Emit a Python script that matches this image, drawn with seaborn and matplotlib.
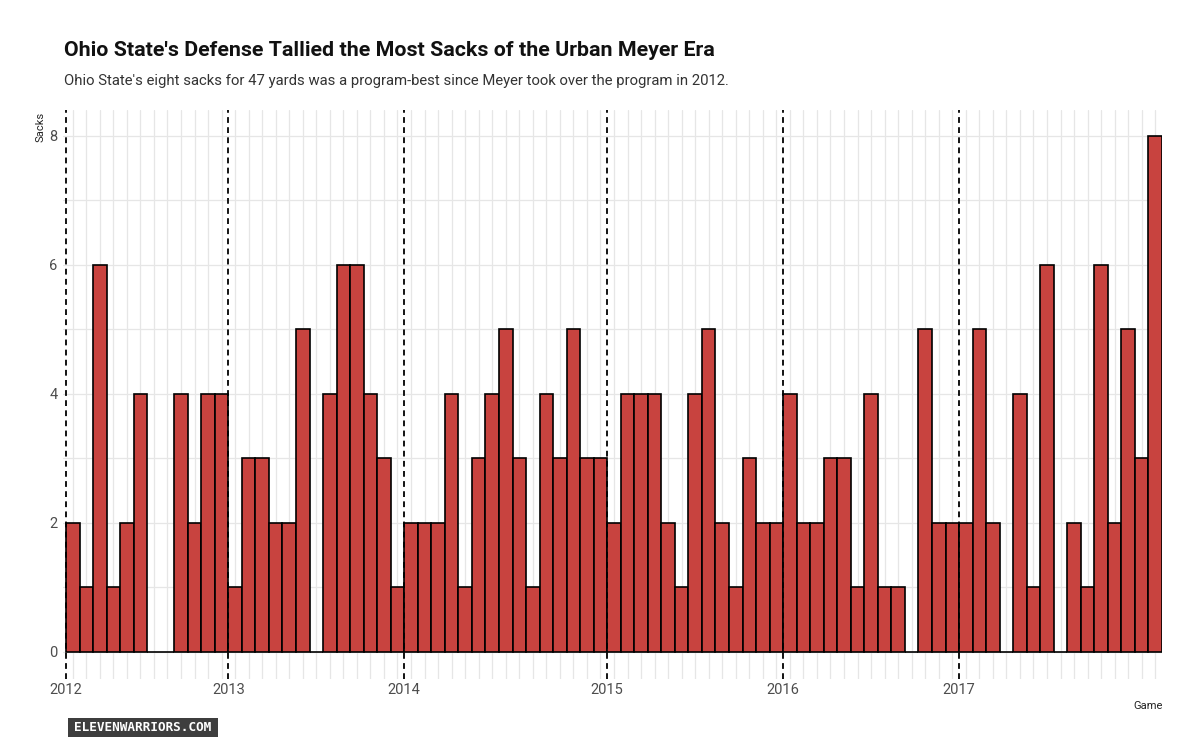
import numpy as np
import pandas as pd
import matplotlib
matplotlib.use("Agg")
import matplotlib.pyplot as plt
import seaborn as sns
from matplotlib.patches import Rectangle

# ---- data ----
game = list(range(1, 82))
sacks = [2, 1, 6, 1, 2, 4, 0, 0, 4, 2, 4, 4,
         1, 3, 3, 2, 2, 5, 0, 4, 6, 6, 4, 3, 1,
         2, 2, 2, 4, 1, 3, 4, 5, 3, 1, 4, 3, 5, 3, 3,
         2, 4, 4, 4, 2, 1, 4, 5, 2, 1, 3, 2, 2,
         4, 2, 2, 3, 3, 1, 4, 1, 1, 0, 5, 2, 2,
         2, 5, 2, 0, 4, 1, 6, 0, 2, 1, 6, 2, 5, 3, 8]
season_years = [2012, 2013, 2014, 2015, 2016, 2017]
season_first_game = [1, 13, 26, 41, 54, 67]
y_ticks = [0, 2, 4, 6, 8]

title = "Ohio State's Defense Tallied the Most Sacks of the Urban Meyer Era"
subtitle = ("Ohio State's eight sacks for 47 yards was a program-best since "
            "Meyer took over the program in 2012.")

df = pd.DataFrame({"game": game, "sacks": sacks})

sns.set_theme(style="white")
plt.rcParams["font.family"] = ["Roboto", "DejaVu Sans"]

fig = plt.figure(figsize=(12, 7.49), dpi=100)
ax = fig.add_axes([63 / 1200, 1 - 679 / 749, (1162 - 63) / 1200, (679 - 110) / 749])

grid_c = "#E6E6E6"
# grid lines
for g in game:
    ax.axvline(g, color=grid_c, lw=0.9, zorder=0)
for yv in range(0, 9):
    ax.axhline(yv, color=grid_c, lw=0.9, zorder=0)

sns.barplot(data=df, x="game", y="sacks", native_scale=True, width=1,
            color="#C8433F", saturation=1, edgecolor="black", linewidth=1.2,
            errorbar=None, ax=ax, zorder=2)

for g in season_first_game:
    ax.axvline(g - 0.5, color="black", lw=1.3, ls=(0, (3.2, 2.4)), zorder=3)

ax.set_xlim(0.28, 81.5)
ax.set_ylim(-0.42, 8.40)
ax.set_xticks([g - 0.5 for g in season_first_game])
ax.set_xticklabels([str(y) for y in season_years])
ax.set_yticks(y_ticks)
ax.set_yticklabels([str(v) for v in y_ticks])
ax.tick_params(axis="both", length=0, labelsize=10.5, colors="#4D4D4D")
ax.tick_params(axis="x", pad=3)
ax.tick_params(axis="y", pad=4)
for s in ax.spines.values():
    s.set_visible(False)
ax.grid(False)
ax.set_xlabel("")
ax.set_ylabel("")

# axis titles
fig.text(41 / 1200, 1 - 112 / 749, "Sacks", rotation=90, ha="center", va="top",
         fontsize=8, color="#222222")
fig.text(1163 / 1200, 1 - 706 / 749, "Game", ha="right", va="center",
         fontsize=8, color="#222222")

# title & subtitle
fig.text(64 / 1200, 1 - 50 / 749, title, ha="left", va="center",
         fontsize=15.4, fontweight="bold", color="#111111")
fig.text(64 / 1200, 1 - 81 / 749, subtitle, ha="left", va="center",
         fontsize=10.7, color="#333333")

# watermark
fig.patches.append(Rectangle((68 / 1200, 1 - 737 / 749), 150 / 1200, 19 / 749,
                             transform=fig.transFigure, facecolor="#3E3E3E",
                             edgecolor="none"))
fig.text(143 / 1200, 1 - 727.5 / 749, "ELEVENWARRIORS.COM", ha="center",
         va="center", fontsize=9.2, fontweight="bold", color="white",
         family=["DejaVu Sans Mono"])

fig.savefig("out.png", dpi=100, facecolor="white")
